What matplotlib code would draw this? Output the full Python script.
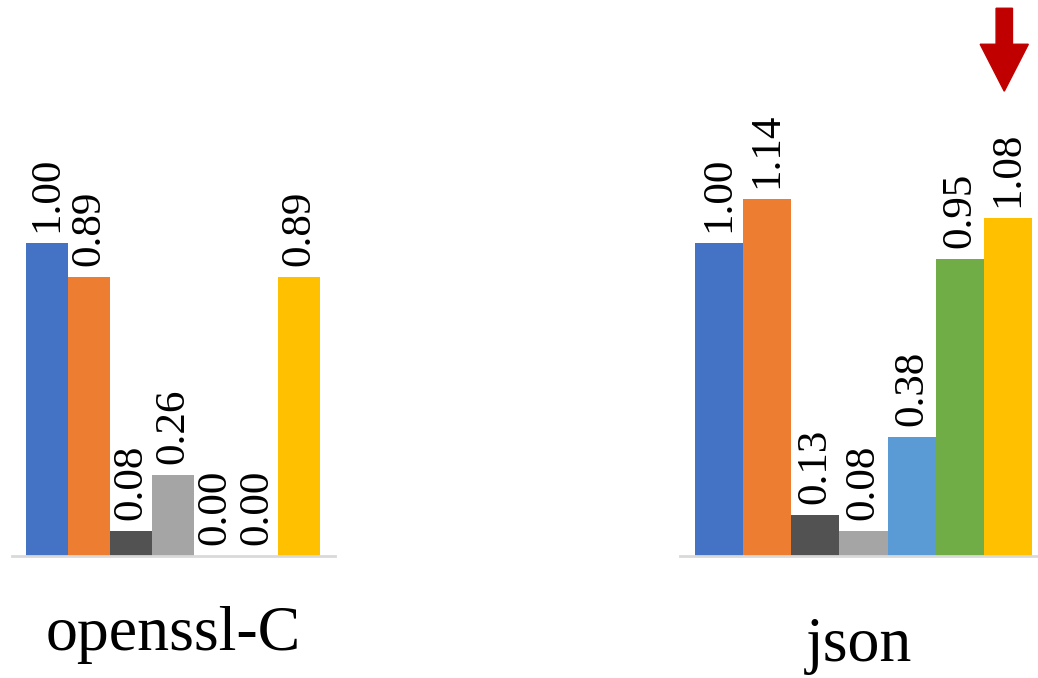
import numpy as np
import matplotlib.pyplot as plt
from matplotlib.patches import FancyArrow

# Normalized results per tool, one bar per configuration
categories = ["openssl-C", "json"]
openssl_vals = [1.00, 0.89, 0.08, 0.26, 0.00, 0.00, 0.89]
json_vals = [1.00, 1.14, 0.13, 0.08, 0.38, 0.95, 1.08]
bar_colors = ["#4472C4", "#ED7D31", "#525252", "#A5A5A5",
              "#5B9BD5", "#70AD47", "#FFC000"]

plt.rcParams['font.family'] = ['Liberation Serif', 'DejaVu Serif']

W, H = 1038, 678
fig = plt.figure(figsize=(W / 100, H / 100), dpi=100)

ymax = 1.6
base = 122 / H
height = ymax * 313 / H

def panel(left_px, width_px, vals, pad_l, pad_r, name, name_y):
    ax = fig.add_axes([left_px / W, base, width_px / W, height])
    x = np.arange(len(vals))
    ax.bar(x, vals, width=1.0, color=bar_colors)
    for xi, v in zip(x, vals):
        ax.annotate("%.2f" % v, (xi, v), xytext=(0, 8),
                    textcoords="offset points", rotation=90,
                    ha="center", va="bottom", fontsize=31)
    ax.set_xlim(-0.5 - pad_l, len(vals) - 0.5 + pad_r)
    ax.set_ylim(0, ymax)
    for s in ["top", "right", "left"]:
        ax.spines[s].set_visible(False)
    ax.spines["bottom"].set_color("#D9D9D9")
    ax.spines["bottom"].set_linewidth(2)
    ax.set_xticks([])
    ax.set_yticks([])
    ax.patch.set_alpha(0)
    fig.text((left_px + width_px / 2) / W, name_y / H, name,
             ha="center", va="baseline", fontsize=46)
    return ax

ax1 = panel(12, 323, openssl_vals, 0.33, 0.36, categories[0], 678 - 650)
ax2 = panel(680, 358, json_vals, 0.31, 0.12, categories[1], 678 - 661)

# red marker pointing at the last json bar
top = json_vals[-1] + 0.67
arrow = FancyArrow(len(json_vals) - 1 - 0.08, top, 0, -0.265, width=0.34,
                   head_width=1.0, head_length=0.15,
                   length_includes_head=True, color="#C00000",
                   clip_on=False)
ax2.add_patch(arrow)

fig.savefig("out.png", dpi=100)
